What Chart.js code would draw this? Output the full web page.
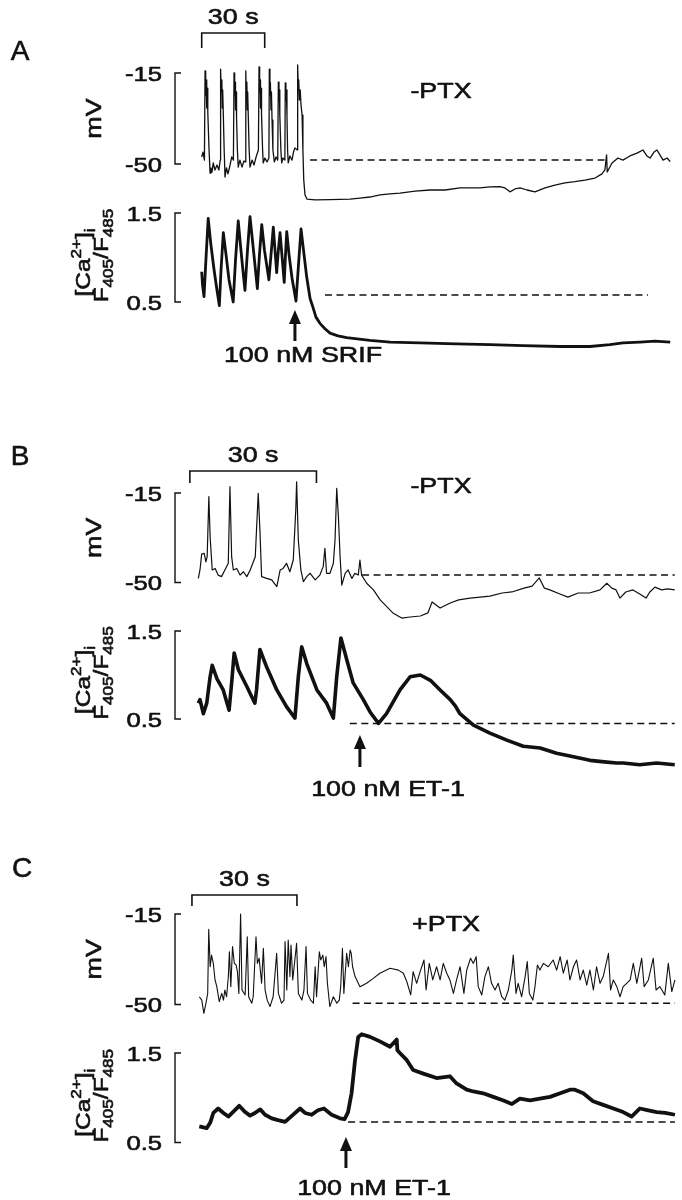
<!DOCTYPE html>
<html>
<head>
<meta charset="utf-8">
<title>SRIF / ET-1 membrane potential and Ca traces</title>
<script src="https://cdn.jsdelivr.net/npm/chart.js"></script>
<style>
  html, body { margin: 0; padding: 0; background: #fff; }
  #fig { display: block; }
</style>
</head>
<body>
<canvas id="fig" width="682" height="1200"></canvas>
<script>
// --- DATA ---
// time in s, membrane potential in mV / fura ratio F405/F485
const panelNames = ['A', 'B', 'C'];
const conditions = ['-PTX', '-PTX', '+PTX'];
const voltTicks = [-15, -50];
const voltTickLabels = ['-15', '-50'];
const caTicks = [1.5, 0.5];
const caTickLabels = ['1.5', '0.5'];
const scaleBarStart = [0, -2, -2.1];
const scaleBarSec = 30;
const drugTimes = [44.4, 38.3, 41.9];
const drugLabels = ['100 nM SRIF', '100 nM ET-1', '100 nM ET-1'];
const voltBaseline = [-48.5, -47.1, -49.5];
const voltBaselineSpan = [[51.6, 192.5], [38.8, 112.9], [43.8, 135.9]];
const caBaseline = [0.58, 0.45, 0.73];
const caBaselineSpan = [[58.7, 212.5], [35.9, 112.9], [42.5, 135.9]];

const voltA = [[0,-47.3],[0.6,-45.4],[1.3,-48.5],[1.6,-14.2],[1.9,-23.5],[2.1,-17.7],[2.4,-28.5],[2.6,-20.8],[2.9,-30],
  [3.5,-44.6],[4.0,-53.5],[4.4,-51.5],[4.9,-53.1],[5.5,-49.6],[6.3,-52.3],[7.3,-50.4],[8.2,-52.3],[8.8,-48.5],
  [9.0,-13.5],[9.3,-22.3],[9.6,-17.7],[9.8,-28.5],[10.0,-21.5],[10.3,-31.2],[10.7,-44.6],[11.1,-55],[11.8,-51.5],
  [12.5,-53.8],[13.5,-50.4],[14.3,-47.3],[15.1,-48.5],
  [15.4,-15],[15.7,-23.5],[15.9,-18.5],[16.1,-29.2],[16.4,-22.3],[16.6,-32.3],[17.0,-44.6],[17.4,-51.2],[18.2,-48.5],
  [19.2,-51.2],[20.1,-48.8],[20.7,-49.2],
  [21.0,-14.2],[21.2,-23.5],[21.5,-18.5],[21.7,-29.2],[21.9,-22.3],[22.2,-32.3],[22.6,-44.6],[23.0,-51.2],[24.0,-48.5],
  [24.9,-50.4],[25.9,-47.3],[27.0,-44.6],
  [27.3,-12.7],[27.6,-22.3],[27.8,-17.7],[28.0,-28.5],[28.3,-20.8],[28.5,-31.2],[29.0,-44.6],[29.3,-49.6],[30.1,-47.7],
  [31.1,-49.2],[32.0,-47.7],
  [32.2,-13.5],[32.5,-23.5],[32.7,-18.5],[33.0,-29.2],[33.2,-22.3],[33.5,-33.1],[33.9,-44.6],[34.6,-49.2],[35.4,-47.3],[36.2,-48.5],
  [36.5,-18.5],[36.8,-25.4],[37.0,-21.5],[37.2,-31.2],[37.7,-44.6],[38.1,-49.6],[38.7,-47.7],[39.6,-48.5],
  [39.8,-18.8],[40.1,-25.4],[40.3,-21.5],[40.6,-31.2],[40.9,-44.6],[41.2,-49.6],[42.0,-46.9],[43.0,-48.5],[43.7,-45.4],
  [44.4,-43.8],[45.5,-44.6],
  [45.7,-11.9],[46.0,-21.5],[46.2,-17.7],[46.5,-25.4],[46.9,-21.5],[47.3,-27.3],[47.8,-31.2],[48.2,-44.6],[48.6,-56.2],
  [49.2,-61.9],[50.1,-63.5],[54.0,-63.8],[61.1,-63.7],[70.6,-63.5],[75.4,-63.1],[80.1,-62.7],[84.9,-61.9],[89.7,-61.5],
  [94.4,-61.2],[101.6,-60.4],[108.7,-60],[115.9,-60],[123.0,-59.2],[127.8,-59.2],[132.5,-59.2],[137.3,-58.8],[142.0,-58.7],
  [144.4,-59.2],[146.8,-60.7],[149.2,-59.6],[151.6,-59.2],[154.9,-60],[158.7,-60.7],[163.5,-59.2],[168.2,-58.1],[173.0,-57.3],
  [177.7,-56.8],[182.5,-56.2],[187.3,-55.4],[190.6,-53.8],[192.0,-52.3],[192.8,-46.5],[193.1,-53.1],[195.4,-49.6],
  [198.2,-47.7],[200.6,-48.5],[203.9,-46.9],[207.3,-45.8],[210.1,-44.6],[212.0,-46.9],[213.5,-47.7],[215.4,-45.4],
  [216.8,-44.6],[218.2,-46.5],[219.7,-48.5],[221.6,-47.7],[223.1,-49.1]];

const caA = [[0,0.84],[0.4,0.69],[1.1,0.56],[2.0,0.97],[3.1,1.44],[4.4,1.14],[5.9,0.86],[7.3,0.63],[8.4,0.46],[9.2,0.86],
  [10.3,1.28],[11.6,1.03],[13.0,0.75],[15.0,0.50],[16.1,0.97],[17.4,1.41],[18.7,1.08],[19.7,0.84],[20.6,0.63],[21.8,1.08],
  [23.0,1.46],[24.4,1.14],[26.5,0.65],[27.5,1.03],[28.6,1.37],[29.9,1.08],[32.0,0.75],[33.0,1.03],[34.1,1.34],[35.7,0.83],
  [36.5,1.08],[37.3,1.28],[38.2,1.03],[39.3,0.72],[39.9,1.03],[40.5,1.29],[41.6,1.03],[43.0,0.77],[44.9,0.51],[46.1,0.92],
  [47.3,1.32],[48.2,1.14],[50.0,0.78],[51.6,0.54],[53.0,0.44],[54.4,0.33],[56.3,0.26],[58.7,0.20],[61.1,0.15],[64.9,0.12],
  [69.0,0.10],[80.1,0.07],[89.7,0.05],[104.0,0.04],[121.4,0.03],[137.3,0.02],[153.0,0.01],[170.6,0.0],[184.9,0.0],
  [194.4,0.02],[200.6,0.04],[208.7,0.05],[215.8,0.06],[223.1,0.05]];

const voltB = [[0,-48.4],[0.4,-45.1],[0.8,-38.9],[1.4,-38.6],[1.8,-41.9],[2.1,-39.9],[2.5,-16.4],[2.8,-32.1],[3.3,-45.1],
  [4.0,-44.5],[4.7,-47.1],[5.5,-47.7],[6.3,-45.1],[7.1,-42.5],[7.5,-12.5],[7.9,-39.9],[8.3,-45.1],[9.1,-44.5],[9.9,-47.1],
  [10.7,-45.8],[11.5,-47.7],[12.3,-45.1],[13.5,-39.9],[14.2,-15.1],[14.6,-29.5],[15.0,-47.7],[16.2,-48.4],[17.4,-49],
  [18.6,-51.6],[19.4,-45.1],[20.1,-44.5],[20.9,-42.5],[21.7,-45.8],[22.5,-41.2],[23.1,-21.6],[23.3,-10.6],[23.7,-33.4],
  [24.3,-45.1],[24.9,-49.7],[25.7,-47.7],[26.5,-46.4],[27.7,-49],[28.8,-47.1],[29.6,-43.8],[30.0,-36.6],[30.4,-46.4],
  [31.2,-46.4],[32.0,-42.5],[32.4,-33.4],[32.8,-13.2],[33.2,-24.3],[33.6,-39.9],[34.0,-51],[34.8,-46.4],[35.5,-45.1],
  [36.4,-48.4],[37.1,-46.4],[37.9,-47.1],[38.3,-41.2],[38.7,-47.1],[39.9,-50.3],[41.5,-52.9],[43.1,-56.8],[46.1,-61.9],
  [48.2,-63.9],[50.2,-63.5],[52.6,-63.1],[54.4,-61.9],[55.4,-57.6],[57.3,-60],[59.7,-58],[61.7,-56.8],[64.4,-56.1],
  [66.8,-55.7],[69.1,-55.3],[72.0,-54.1],[74.3,-53.7],[77.2,-52.2],[79.1,-51.4],[80.8,-48.2],[82.0,-52.2],[83.3,-52.9],
  [85.7,-54.5],[87.6,-55.7],[90.0,-54.1],[92.7,-54.1],[95.2,-52.9],[96.8,-50.3],[98.0,-52.2],[99.0,-52.9],[99.9,-56.1],
  [101.3,-53.7],[103.0,-52.9],[104.6,-54.5],[106.1,-56.1],[107.0,-53.7],[108.2,-51.8],[109.8,-52.9],[111.2,-52.5],[112.9,-52.9]];

const caB = [[0,0.68],[0.4,0.72],[1.2,0.56],[2.0,0.68],[2.8,0.98],[3.3,1.11],[4.4,0.96],[5.9,0.83],[7.3,0.60],[7.9,0.91],
  [8.5,1.25],[9.5,1.06],[11.5,0.87],[13.4,0.68],[13.8,0.83],[14.6,1.29],[16.2,1.09],[18.6,0.83],[20.9,0.64],[22.9,0.51],
  [23.7,0.98],[24.5,1.32],[25.7,1.13],[28.1,0.83],[30.4,0.68],[32.0,0.51],[32.8,0.98],[33.8,1.42],[35.2,1.17],[36.7,0.91],
  [39.1,0.72],[40.7,0.58],[42.7,0.45],[44.6,0.56],[47.8,0.83],[50.2,0.98],[52.6,1.0],[55.0,0.94],[57.3,0.83],[59.7,0.72],
  [60.9,0.65],[62.0,0.56],[65.2,0.43],[69.1,0.34],[73.1,0.26],[77.0,0.19],[81.0,0.17],[84.9,0.11],[88.9,0.07],[92.8,0.03],
  [96.8,0.01],[99.1,0.0],[100.7,0.0],[104.6,-0.02],[108.6,0.0],[112.9,-0.02]];

const voltC = [[0,-47],[0.7,-48.3],[1.3,-53.4],[1.9,-49.5],[2.4,-45.7],[2.7,-20.9],[3.1,-35.4],[3.5,-30.9],[4.0,-34.1],
  [4.5,-40.5],[5.0,-43.1],[5.7,-48.9],[6.4,-45.7],[6.9,-48.3],[7.3,-44.4],[7.8,-47],[8.3,-39.2],[8.6,-29.6],[9.0,-43.1],
  [9.5,-27.6],[10.0,-34.1],[10.5,-34.7],[10.9,-37.3],[11.3,-45.7],[11.8,-15],[12.2,-44.4],[13.1,-46.3],[13.7,-23.8],
  [14.1,-47],[15.0,-49.5],[15.4,-47],[16.2,-23.8],[16.6,-34.1],[17.1,-32.1],[17.8,-41.8],[18.3,-28.3],[18.8,-44.4],
  [19.4,-48.3],[20.2,-50.8],[21.1,-47],[22.1,-30.2],[22.6,-45.7],[23.5,-49.5],[24.2,-48.3],[24.5,-25.7],[25.0,-44.4],
  [25.4,-25.1],[25.9,-39.2],[26.2,-27],[26.7,-40.5],[27.8,-26.3],[28.3,-45.7],[29.3,-48.3],[29.9,-44.4],[30.5,-27.6],
  [30.9,-45.7],[31.8,-48.3],[32.6,-49.5],[33.1,-35.4],[33.5,-47],[34.3,-29.6],[34.7,-32.8],[35.3,-30.9],[35.7,-35.4],
  [36.2,-31.5],[36.6,-41.8],[37.3,-50.8],[38.3,-47],[39.3,-49.5],[40.0,-48.3],[40.4,-43.1],[40.9,-28.3],[41.3,-45.7],
  [42.1,-30.2],[42.6,-35.4],[43.1,-28.9],[43.4,-30.2],[43.8,-35.4],[44.5,-39.2],[45.9,-43.1],[47.8,-41.8],[49.7,-39.9],
  [51.6,-37.9],[54.5,-36],[56.9,-36.7],[58.3,-37.9],[59.3,-41.2],[60.4,-46.3],[61.1,-37.3],[62.1,-41.8],[63.1,-37.3],
  [64.2,-32.8],[64.8,-44.4],[65.7,-34.1],[66.7,-40.5],[67.8,-35.4],[68.8,-40.5],[69.7,-34.1],[70.7,-37.9],[71.6,-40.5],
  [72.6,-45.7],[73.5,-40.5],[74.5,-35.4],[75.6,-45.7],[76.4,-36.7],[77.5,-32.1],[78.3,-34.1],[79.1,-31.5],[79.7,-43.1],
  [80.7,-46.3],[81.6,-39.2],[82.6,-35.4],[83.5,-41.8],[84.5,-44.4],[85.4,-41.8],[86.4,-47],[87.3,-48.3],[88.3,-44.4],
  [89.3,-36.7],[89.7,-30.9],[90.5,-45.7],[91.1,-41.8],[92.1,-47],[93.1,-39.2],[93.7,-33.4],[94.3,-45.7],[95.3,-48.3],
  [95.9,-43.1],[96.6,-34.7],[97.3,-36.7],[98.3,-34.1],[99.7,-35.4],[101.1,-32.8],[102.1,-36.7],[103.1,-31.5],[104.0,-37.9],
  [105.1,-32.8],[105.9,-40.5],[106.9,-35.4],[107.8,-32.8],[108.8,-40.5],[109.7,-36.7],[110.7,-42.5],[111.6,-36.7],
  [112.6,-44.4],[113.5,-35.4],[114.5,-41.8],[115.4,-39.2],[116.9,-30.2],[117.5,-44.4],[118.3,-40.5],[119.3,-43.1],
  [120.2,-47],[121.1,-43.1],[122.1,-41.8],[123.1,-40.5],[124.0,-34.1],[125.0,-41.8],[126.4,-32.1],[127.1,-43.1],
  [128.3,-40.5],[129.7,-32.1],[130.5,-44.4],[131.6,-43.1],[133.0,-46.3],[134.0,-34.1],[135.0,-45],[135.9,-40.5]];

const caC = [[0,0.68],[2.1,0.66],[3.1,0.72],[4.0,0.83],[5.4,0.88],[6.9,0.83],[8.3,0.79],[9.6,0.84],[11.4,0.91],[13.1,0.84],
  [14.5,0.80],[15.9,0.83],[17.4,0.87],[18.8,0.81],[20.7,0.77],[22.5,0.75],[24.5,0.73],[26.5,0.80],[28.8,0.88],[30.2,0.83],
  [32.1,0.81],[33.9,0.86],[35.6,0.88],[37.8,0.81],[40.2,0.77],[41.5,0.76],[42.5,0.84],[43.5,1.05],[44.5,1.42],[45.4,1.68],
  [46.4,1.71],[48.8,1.68],[51.6,1.63],[54.5,1.57],[56.4,1.65],[56.6,1.53],[57.3,1.50],[59.3,1.42],[61.1,1.31],[64.0,1.27],
  [67.8,1.22],[71.6,1.24],[73.5,1.16],[76.4,1.09],[78.3,1.07],[81.1,1.05],[84.0,1.01],[86.9,0.97],[89.3,0.93],[91.6,0.99],
  [94.5,0.97],[97.3,0.99],[100.2,1.01],[103.1,1.05],[105.9,1.09],[107.3,1.09],[109.7,1.05],[112.5,0.96],[115.4,0.92],
  [118.3,0.88],[121.1,0.84],[123.5,0.79],[125.9,0.88],[128.3,0.86],[130.7,0.84],[133.1,0.83],[135.9,0.81]];

const voltTraces = [voltA, voltB, voltC];
const caTraces = [caA, caB, caC];

// --- LAYOUT (pixel anchors of each panel on the 682 x 1200 page) ---
const W = 682, H = 1200;
const INK = '#111';
const FONT = '"Liberation Sans", Arial, Helvetica, sans-serif';
const STRETCH = 1.22;   // the original lettering is wide
const AXIS_X = 175, TICK_LEN = 6;

const panelLayout = [
  { x0: 201.7, pxPerSec: 2.1,  volt: [73, 164],     ca: [213, 302],     letter: [20, 50],  cond: [441, 90],
    bar: 33,  barH: 15, arrow: [310, 341],   drugText: [303, 354],  voltW: 1.3, caW: 2.8 },
  { x0: 198.3, pxPerSec: 4.22, volt: [493, 582.5],  ca: [631, 719],     letter: [20, 455], cond: [441, 485],
    bar: 471, barH: 12, arrow: [735, 767],   drugText: [388, 788],  voltW: 1.2, caW: 3.6 },
  { x0: 199.3, pxPerSec: 3.5,  volt: [914, 1004.5], ca: [1053, 1142.5], letter: [22, 867], cond: [446, 923],
    bar: 895, barH: 11, arrow: [1137, 1168], drugText: [374, 1187], voltW: 1.1, caW: 3.8 }
];

// linear range of a hidden axis so that two values land on two given pixels
function spanFor(p1, v1, p2, v2, pMin, pMax) {
  const k = (v2 - v1) / (p2 - p1);
  const a = v1 + (pMin - p1) * k;
  const b = v1 + (pMax - p1) * k;
  return { min: Math.min(a, b), max: Math.max(a, b) };
}

// --- SCALES & DATASETS ---
const scales = {};
const datasets = [];

panelLayout.forEach((L, i) => {
  scales['x' + i] = Object.assign({ type: 'linear', axis: 'x', display: false },
    spanFor(L.x0, 0, L.x0 + 30 * L.pxPerSec, 30, 0, W));
  scales['yv' + i] = Object.assign({ type: 'linear', axis: 'y', display: false },
    spanFor(L.volt[0], voltTicks[0], L.volt[1], voltTicks[1], 0, H));
  scales['yc' + i] = Object.assign({ type: 'linear', axis: 'y', display: false },
    spanFor(L.ca[0], caTicks[0], L.ca[1], caTicks[1], 0, H));

  const base = { borderColor: INK, pointRadius: 0, tension: 0, fill: false, xAxisID: 'x' + i };

  datasets.push(Object.assign({}, base, {
    label: panelNames[i] + ' mV',
    data: voltTraces[i].map(p => ({ x: p[0], y: p[1] })),
    yAxisID: 'yv' + i, borderWidth: L.voltW, borderJoinStyle: 'round'
  }));
  datasets.push(Object.assign({}, base, {
    label: panelNames[i] + ' Ca',
    data: caTraces[i].map(p => ({ x: p[0], y: p[1] })),
    yAxisID: 'yc' + i, borderWidth: L.caW, borderJoinStyle: 'round'
  }));
  datasets.push(Object.assign({}, base, {
    label: panelNames[i] + ' mV baseline',
    data: voltBaselineSpan[i].map(t => ({ x: t, y: voltBaseline[i] })),
    yAxisID: 'yv' + i, borderWidth: 1.5, borderDash: [7, 4.5]
  }));
  datasets.push(Object.assign({}, base, {
    label: panelNames[i] + ' Ca baseline',
    data: caBaselineSpan[i].map(t => ({ x: t, y: caBaseline[i] })),
    yAxisID: 'yc' + i, borderWidth: 1.5, borderDash: [7, 4.5]
  }));
});

// --- TEXT HELPERS ---
// parts: string or [{t, sub, sup}]; (x, y) is the baseline anchor
function drawText(ctx, parts, x, y, size, opts) {
  opts = opts || {};
  if (typeof parts === 'string') parts = [{ t: parts }];
  const stretch = opts.stretch || STRETCH;
  ctx.save();
  ctx.translate(x, y);
  if (opts.rotate) ctx.rotate(-Math.PI / 2);
  ctx.scale(stretch, 1);
  ctx.textAlign = 'left';
  ctx.textBaseline = 'alphabetic';
  ctx.lineWidth = 0.6;
  ctx.lineJoin = 'round';
  let total = 0;
  const items = parts.map(p => {
    const s = (p.sub || p.sup) ? Math.round(size * 0.7) : size;
    ctx.font = s + 'px ' + FONT;
    const w = ctx.measureText(p.t).width;
    total += w;
    return { t: p.t, s: s, w: w, dy: p.sup ? -size * 0.42 : (p.sub ? size * 0.28 : 0) };
  });
  let cx = opts.align === 'right' ? -total : (opts.align === 'left' ? 0 : -total / 2);
  items.forEach(it => {
    ctx.font = it.s + 'px ' + FONT;
    ctx.fillText(it.t, cx, it.dy);
    ctx.strokeText(it.t, cx, it.dy);   // scanned lettering is a little heavier
    cx += it.w;
  });
  ctx.restore();
}

// text vertically centred on cy (cap height ~0.716 em)
function centredText(ctx, str, cx, cy, size, opts) {
  drawText(ctx, str, cx, cy + size * 0.358, size, opts);
}

function bracket(ctx, top, bottom) {
  ctx.lineWidth = 1.4;
  ctx.beginPath();
  ctx.moveTo(AXIS_X + TICK_LEN, top);
  ctx.lineTo(AXIS_X, top);
  ctx.lineTo(AXIS_X, bottom);
  ctx.lineTo(AXIS_X + TICK_LEN, bottom);
  ctx.stroke();
}

// --- FIGURE DECORATION PLUGIN (axes brackets, labels, arrows, scale bars) ---
const decor = {
  id: 'decor',
  afterDatasetsDraw(chart) {
    const ctx = chart.ctx;
    ctx.save();
    ctx.fillStyle = INK;
    ctx.strokeStyle = INK;
    ctx.lineCap = 'butt';

    panelLayout.forEach((L, i) => {
      const xs = chart.scales['x' + i];
      const yv = chart.scales['yv' + i];
      const yc = chart.scales['yc' + i];

      centredText(ctx, panelNames[i], L.letter[0], L.letter[1], 28, { stretch: 1.0 });
      centredText(ctx, conditions[i], L.cond[0], L.cond[1], 22);

      // 30 s time bar
      const bl = xs.getPixelForValue(scaleBarStart[i]);
      const br = xs.getPixelForValue(scaleBarStart[i] + scaleBarSec);
      ctx.lineWidth = 1.6;
      ctx.beginPath();
      ctx.moveTo(bl, L.bar + L.barH);
      ctx.lineTo(bl, L.bar);
      ctx.lineTo(br, L.bar);
      ctx.lineTo(br, L.bar + L.barH);
      ctx.stroke();
      centredText(ctx, scaleBarSec + ' s', (bl + br) / 2, L.bar - 17, 22);

      // mV axis
      const vTop = yv.getPixelForValue(voltTicks[0]);
      const vBot = yv.getPixelForValue(voltTicks[1]);
      bracket(ctx, vTop, vBot);
      centredText(ctx, voltTickLabels[0], 162, vTop, 21, { align: 'right' });
      centredText(ctx, voltTickLabels[1], 162, vBot, 21, { align: 'right' });
      drawText(ctx, 'mV', 101, (vTop + vBot) / 2, 22, { rotate: true });

      // Ca axis
      const cTop = yc.getPixelForValue(caTicks[0]);
      const cBot = yc.getPixelForValue(caTicks[1]);
      bracket(ctx, cTop, cBot);
      centredText(ctx, caTickLabels[0], 162, cTop, 21, { align: 'right' });
      centredText(ctx, caTickLabels[1], 162, cBot, 21, { align: 'right' });
      const mid = (cTop + cBot) / 2;
      drawText(ctx, [{ t: '[Ca' }, { t: '2+', sup: true }, { t: ']' }, { t: 'i', sub: true }],
        89.5, mid + 5, 20, { rotate: true });
      drawText(ctx, [{ t: 'F' }, { t: '405', sub: true }, { t: '/F' }, { t: '485', sub: true }],
        107.5, mid - 2, 20, { rotate: true });

      // drug application arrow
      const ax = xs.getPixelForValue(drugTimes[i]);
      const tip = L.arrow[0], tail = L.arrow[1];
      ctx.lineWidth = 3;
      ctx.beginPath();
      ctx.moveTo(ax, tail);
      ctx.lineTo(ax, tip + 10);
      ctx.stroke();
      ctx.beginPath();
      ctx.moveTo(ax, tip);
      ctx.lineTo(ax - 6, tip + 14);
      ctx.lineTo(ax + 6, tip + 14);
      ctx.closePath();
      ctx.fill();
      centredText(ctx, drugLabels[i], L.drugText[0], L.drugText[1], 22);
    });
    ctx.restore();
  }
};

// --- CHART ---
const ctx = document.getElementById('fig').getContext('2d');
const figChart = new Chart(ctx, {
  type: 'line',
  data: { datasets: datasets },
  options: {
    responsive: false,
    devicePixelRatio: 1,
    animation: false,
    events: [],
    layout: { padding: 0 },
    plugins: { legend: { display: false }, tooltip: { enabled: false } },
    scales: scales
  },
  plugins: [decor]
});
</script>
</body>
</html>
